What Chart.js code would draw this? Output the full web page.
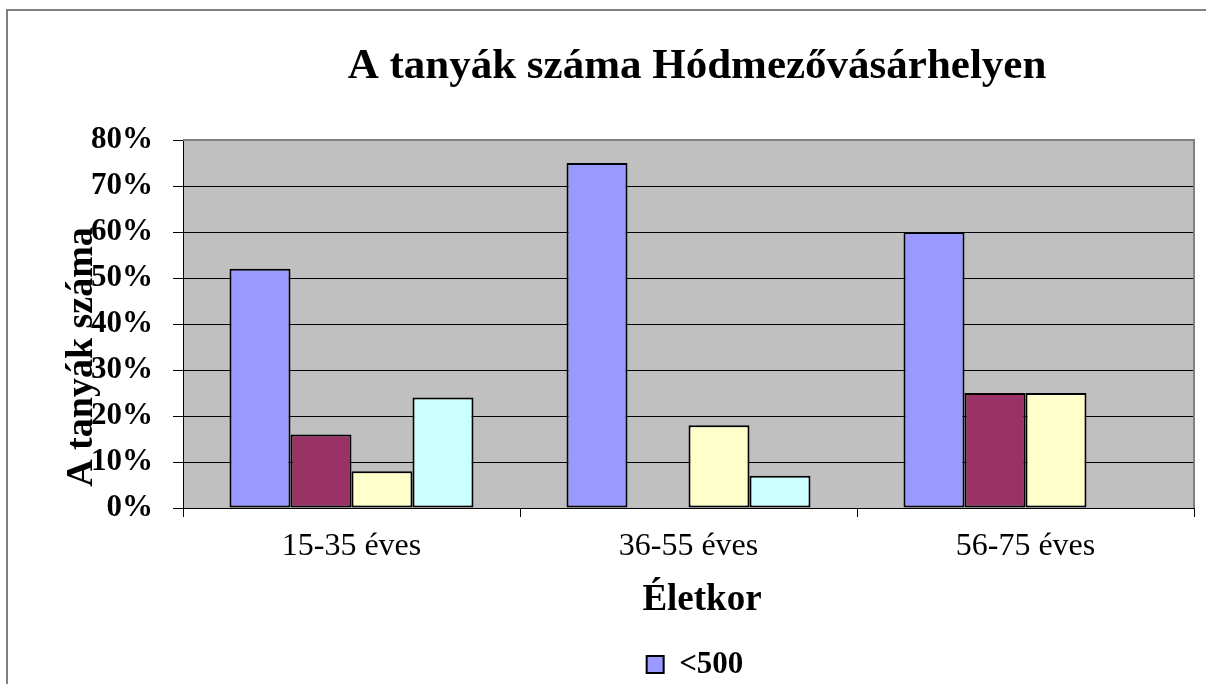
<!DOCTYPE html>
<html>
<head>
<meta charset="utf-8">
<script src="https://cdn.jsdelivr.net/npm/chart.js@4.4.1/dist/chart.umd.min.js"></script>
<style>
  html, body { margin: 0; padding: 0; background: #fff; overflow: hidden; }
  #wrap { position: relative; width: 1206px; height: 700px; }
</style>
</head>
<body>
<div id="wrap"><canvas id="grafico"></canvas></div>
<script>
// age groups on the x axis
const kategoriak = ['15-35 éves', '36-55 éves', '56-75 éves']

// farm size groups (only the first one fits in the legend)
const sorozatNevek = ['<500', '500-1000', '1000-2000', '>2000']

// share of farms, percent
const kisebb500 = [52, 75, 60]
const sor500_1000 = [16, 0, 25]
const sor1000_2000 = [8, 18, 25]
const nagyobb2000 = [24, 7, 0]

const szinek = ['#9999FF', '#993366', '#FFFFCC', '#CCFFFF']

// y axis: 0% .. 80%, step 10
const yMin = 0
const yMax = 80
const yLepes = 10

const betu = '"Liberation Serif", "Times New Roman", serif'
Chart.defaults.font.family = betu
Chart.defaults.color = '#000'

// plot background, frames and the three titles
const keret = {
  id: 'keret',
  afterLayout(chart) {
    // legend sits under the middle of the plot, not the canvas
    const eltolas = 98
    chart.legend.left += eltolas
    chart.legend.right += eltolas
  },
  beforeDraw(chart) {
    const { ctx, chartArea: a } = chart
    ctx.save()
    ctx.fillStyle = '#fff'
    ctx.fillRect(0, 0, chart.width, chart.height)
    ctx.fillStyle = '#C0C0C0'
    ctx.fillRect(a.left, a.top, a.right - a.left, a.bottom - a.top)
    ctx.strokeStyle = '#808080'
    ctx.lineWidth = 2
    ctx.beginPath()
    ctx.moveTo(7, chart.height)
    ctx.lineTo(7, 10)
    ctx.lineTo(chart.width, 10)
    ctx.stroke()
    ctx.restore()
  },
  afterDraw(chart) {
    const { ctx, chartArea: a } = chart
    ctx.save()
    ctx.strokeStyle = '#808080'
    ctx.lineWidth = 2
    ctx.beginPath()
    ctx.moveTo(a.left, a.top)
    ctx.lineTo(a.right, a.top)
    ctx.lineTo(a.right, a.bottom)
    ctx.stroke()

    ctx.fillStyle = '#000'
    ctx.textAlign = 'center'
    ctx.textBaseline = 'middle'
    ctx.font = 'bold 43px ' + betu
    ctx.fillText('A tanyák száma Hódmezővásárhelyen', 697, 67)

    ctx.font = 'bold 37px ' + betu
    ctx.fillText('Életkor', 702, 600)

    ctx.font = 'bold 38px ' + betu
    ctx.translate(82, 357)
    ctx.rotate(-Math.PI / 2)
    ctx.fillText('A tanyák száma', 0, 0)
    ctx.restore()
  }
}

const adatok = [kisebb500, sor500_1000, sor1000_2000, nagyobb2000]

new Chart(document.getElementById('grafico'), {
  type: 'bar',
  data: {
    labels: kategoriak,
    datasets: adatok.map((d, i) => ({
      label: sorozatNevek[i],
      data: d,
      backgroundColor: szinek[i],
      borderColor: '#000',
      borderWidth: 2,
      borderSkipped: false,
      categoryPercentage: 0.724,
      barPercentage: 1,
    })),
  },
  options: {
    responsive: true,
    maintainAspectRatio: false,
    animation: false,
    events: [],
    layout: { padding: { left: 0, right: 12, top: 140, bottom: 10 } },
    plugins: {
      title: { display: false },
      tooltip: { enabled: false },
      legend: {
        position: 'bottom',
        labels: {
          filter: (item) => item.datasetIndex === 0,
          font: { size: 31, weight: 'bold' },
          boxWidth: 17,
          boxHeight: 17,
          padding: 10,
          color: '#000',
        },
      },
    },
    scales: {
      x: {
        afterFit: (s) => { s.height = 131 },
        grid: {
          offset: true,
          drawOnChartArea: false,
          drawTicks: true,
          tickLength: 9,
          color: '#000',
        },
        border: { display: true, color: '#000', width: 1 },
        ticks: { font: { size: 32 }, padding: 10, color: '#000' },
      },
      y: {
        min: yMin,
        max: yMax,
        afterFit: (s) => { s.width = 183 },
        grid: { color: '#000', lineWidth: 1, tickLength: 10 },
        border: { display: true, color: '#000', width: 1 },
        ticks: {
          stepSize: yLepes,
          padding: 20,
          font: { size: 31, weight: 'bold' },
          color: '#000',
          callback: (v) => v + '%',
        },
      },
    },
  },
  plugins: [keret],
})
</script>
</body>
</html>
